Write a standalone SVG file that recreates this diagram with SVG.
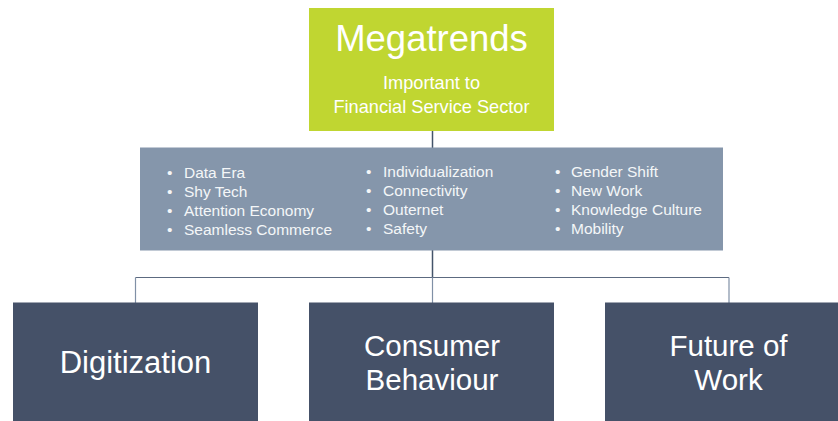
<svg xmlns="http://www.w3.org/2000/svg" width="838" height="421" viewBox="0 0 838 421">
<style>
  text { font-family: "Liberation Sans", Arial, sans-serif; fill: #ffffff; }
  .title { font-size: 36.5px; }
  .sub { font-size: 18.2px; }
  .item { font-size: 15.5px; fill: #f4f6f8; }
  .big { font-size: 31px; }
  .big2 { font-size: 29.5px; }
  .dark { fill: #455168; }
  .conn { stroke: #44546a; stroke-width: 1.5; fill: none; }
  .conn2 { stroke: #5c6a80; stroke-width: 1.2; fill: none; }
  .conn3 { stroke: #8090a6; stroke-width: 1.2; fill: none; }
</style>
<rect width="838" height="421" fill="#ffffff"/>
<g id="connectors">
  <line class="conn" x1="432.5" y1="131" x2="432.5" y2="148"/>
  <line class="conn" x1="432.5" y1="250" x2="432.5" y2="277.5"/>
  <line class="conn2" x1="135.5" y1="277.5" x2="729" y2="277.5"/>
  <line class="conn3" x1="135.5" y1="277.5" x2="135.5" y2="303"/>
  <line class="conn3" x1="432.5" y1="277.5" x2="432.5" y2="303"/>
  <line class="conn3" x1="729" y1="277.5" x2="729" y2="303"/>
</g>
<g id="megatrends">
  <rect x="309" y="8" width="245" height="123" fill="#c0d631"/>
  <text class="title" x="431.5" y="51" text-anchor="middle">Megatrends</text>
  <text class="sub" x="431.5" y="89" text-anchor="middle">Important to</text>
  <text class="sub" x="431.5" y="113" text-anchor="middle">Financial Service Sector</text>
</g>
<g id="trends">
  <rect x="140" y="147.5" width="583" height="103" fill="#8596ab"/>
  <g class="item">
    <text class="item" x="167" y="178">•</text>
    <text class="item" x="184" y="178">Data Era</text>
    <text class="item" x="167" y="197">•</text>
    <text class="item" x="184" y="197">Shy Tech</text>
    <text class="item" x="167" y="216">•</text>
    <text class="item" x="184" y="216">Attention Economy</text>
    <text class="item" x="167" y="235">•</text>
    <text class="item" x="184" y="235">Seamless Commerce</text>

    <text class="item" x="366" y="177">•</text>
    <text class="item" x="383" y="177">Individualization</text>
    <text class="item" x="366" y="196">•</text>
    <text class="item" x="383" y="196">Connectivity</text>
    <text class="item" x="366" y="215">•</text>
    <text class="item" x="383" y="215">Outernet</text>
    <text class="item" x="366" y="234">•</text>
    <text class="item" x="383" y="234">Safety</text>

    <text class="item" x="555" y="177">•</text>
    <text class="item" x="571" y="177">Gender Shift</text>
    <text class="item" x="555" y="196">•</text>
    <text class="item" x="571" y="196">New Work</text>
    <text class="item" x="555" y="215">•</text>
    <text class="item" x="571" y="215">Knowledge Culture</text>
    <text class="item" x="555" y="234">•</text>
    <text class="item" x="571" y="234">Mobility</text>
  </g>
</g>
<g id="digitization">
  <rect class="dark" x="13" y="302.5" width="245" height="130"/>
  <text class="big" x="135.5" y="373" text-anchor="middle">Digitization</text>
</g>
<g id="consumer-behaviour">
  <rect class="dark" x="309" y="302.5" width="245" height="130"/>
  <text class="big2" x="432" y="356" text-anchor="middle">Consumer</text>
  <text class="big2" x="432" y="390" text-anchor="middle">Behaviour</text>
</g>
<g id="future-of-work">
  <rect class="dark" x="605" y="302.5" width="245" height="130"/>
  <text class="big2" x="728.5" y="356" text-anchor="middle">Future of</text>
  <text class="big2" x="728.5" y="390" text-anchor="middle">Work</text>
</g>
</svg>
